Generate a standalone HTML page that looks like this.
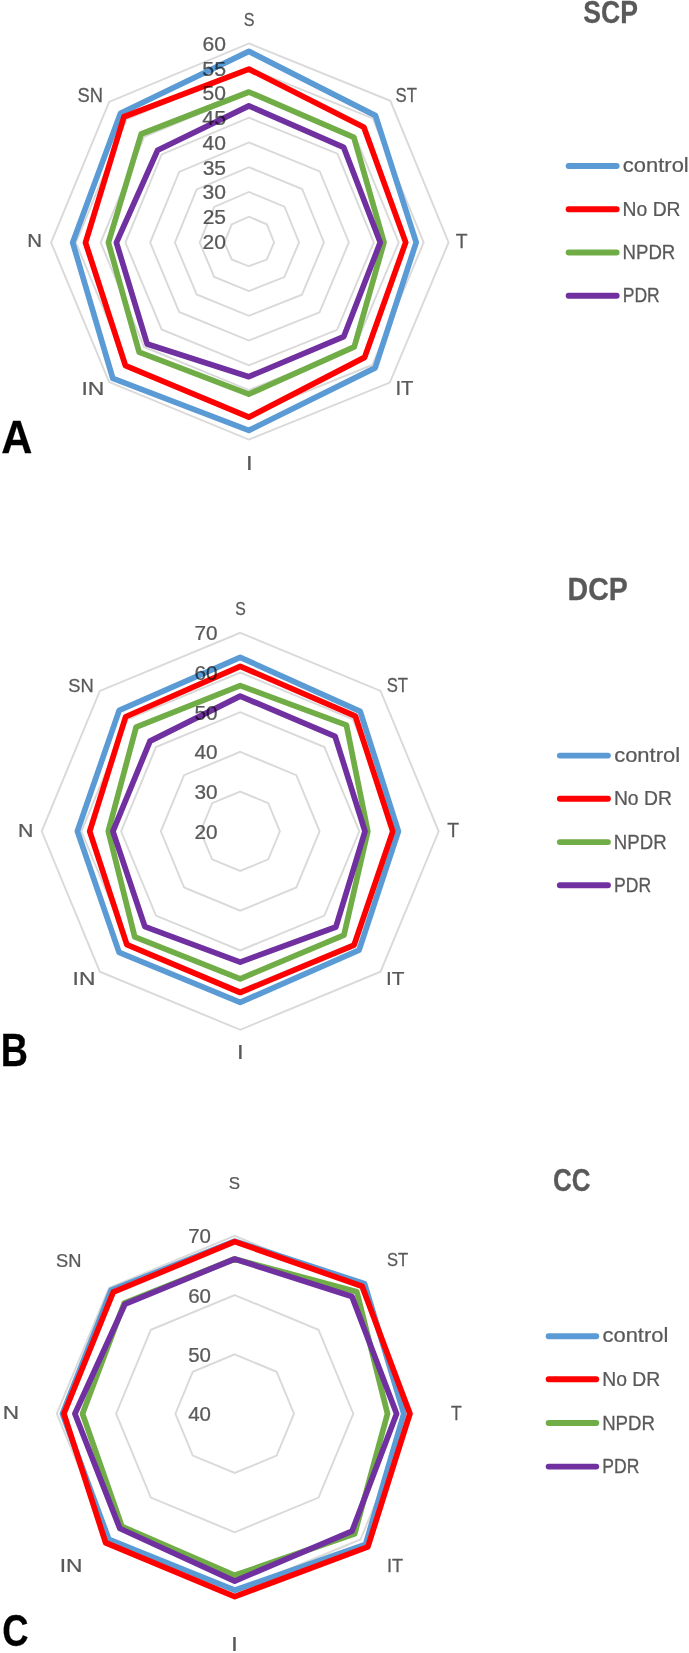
<!DOCTYPE html>
<html><head><meta charset="utf-8"><title>Radar charts SCP DCP CC</title>
<style>
html,body{margin:0;padding:0;background:#fff;}
body{width:689px;height:1653px;overflow:hidden;}
svg text{mix-blend-mode:multiply;}
svg{display:block;font-family:"Liberation Sans",sans-serif;}
</style></head><body>
<svg width="689" height="1653" viewBox="0 0 689 1653">
<rect width="689" height="1653" fill="#fff"/>
<polygon points="248.90,216.74 266.85,224.30 274.12,242.40 266.78,259.53 248.80,266.26 231.69,259.46 224.44,242.60 231.69,224.44" fill="none" stroke="#D9D9D9" stroke-width="1.9"/>
<polygon points="248.90,191.98 284.50,206.65 299.05,242.40 284.36,277.11 248.80,291.02 214.18,276.97 199.68,242.60 214.18,206.93" fill="none" stroke="#D9D9D9" stroke-width="1.9"/>
<polygon points="248.90,167.22 302.14,189.01 323.97,242.40 301.93,294.68 248.80,315.78 196.68,294.47 174.92,242.60 196.68,189.43" fill="none" stroke="#D9D9D9" stroke-width="1.9"/>
<polygon points="248.90,142.46 319.79,171.36 348.89,242.40 319.51,312.26 248.80,340.54 179.17,311.98 150.16,242.60 179.17,171.92" fill="none" stroke="#D9D9D9" stroke-width="1.9"/>
<polygon points="248.90,117.70 337.44,153.71 373.82,242.40 337.09,329.84 248.80,365.30 161.66,329.49 125.40,242.60 161.66,154.41" fill="none" stroke="#D9D9D9" stroke-width="1.9"/>
<polygon points="248.90,92.94 355.09,136.06 398.74,242.40 354.67,347.42 248.80,390.06 144.15,347.00 100.64,242.60 144.15,136.90" fill="none" stroke="#D9D9D9" stroke-width="1.9"/>
<polygon points="248.90,68.18 372.74,118.41 423.66,242.40 372.25,365.00 248.80,414.82 126.64,364.51 75.88,242.60 126.64,119.39" fill="none" stroke="#D9D9D9" stroke-width="1.9"/>
<polygon points="248.90,43.42 390.38,100.77 448.59,242.40 389.82,382.57 248.80,439.58 109.14,382.01 51.12,242.60 109.14,101.89" fill="none" stroke="#D9D9D9" stroke-width="1.9"/>
<polygon points="248.90,51.40 375.49,115.66 416.20,242.40 375.14,367.89 248.80,430.40 112.80,378.35 72.70,242.60 120.51,113.26" fill="none" stroke="#5B9BD5" stroke-width="5.7" stroke-linejoin="round"/>
<polygon points="248.90,69.10 363.89,127.26 405.70,242.40 364.60,357.35 248.80,417.20 125.46,365.69 85.50,242.60 123.97,116.72" fill="none" stroke="#FF0000" stroke-width="5.7" stroke-linejoin="round"/>
<polygon points="248.90,92.00 353.85,137.30 384.00,242.40 354.21,346.96 248.80,394.10 139.10,352.05 108.40,242.60 141.22,133.97" fill="none" stroke="#70AD47" stroke-width="5.7" stroke-linejoin="round"/>
<polygon points="248.90,105.90 343.74,147.41 380.30,242.40 343.81,336.56 248.80,376.70 147.16,343.99 116.40,242.60 157.56,150.31" fill="none" stroke="#7030A0" stroke-width="5.7" stroke-linejoin="round"/>
<text transform="matrix(0.21074 0 0 0.20071 202.60 249.00)" font-size="100" fill="#595959" stroke="#595959" stroke-width="1.216" stroke-linejoin="round">20</text>
<text transform="matrix(0.21074 0 0 0.20071 202.65 224.24)" font-size="100" fill="#595959" stroke="#595959" stroke-width="1.216" stroke-linejoin="round">25</text>
<text transform="matrix(0.21074 0 0 0.20071 202.60 199.48)" font-size="100" fill="#595959" stroke="#595959" stroke-width="1.216" stroke-linejoin="round">30</text>
<text transform="matrix(0.21074 0 0 0.20071 202.65 174.72)" font-size="100" fill="#595959" stroke="#595959" stroke-width="1.216" stroke-linejoin="round">35</text>
<text transform="matrix(0.21074 0 0 0.20071 202.60 149.96)" font-size="100" fill="#595959" stroke="#595959" stroke-width="1.216" stroke-linejoin="round">40</text>
<text transform="matrix(0.21376 0 0 0.20358 202.33 125.20)" font-size="100" fill="#595959" stroke="#595959" stroke-width="1.198" stroke-linejoin="round">45</text>
<text transform="matrix(0.21074 0 0 0.20071 202.60 100.44)" font-size="100" fill="#595959" stroke="#595959" stroke-width="1.216" stroke-linejoin="round">50</text>
<text transform="matrix(0.21376 0 0 0.20358 202.33 75.68)" font-size="100" fill="#595959" stroke="#595959" stroke-width="1.198" stroke-linejoin="round">55</text>
<text transform="matrix(0.21074 0 0 0.20071 202.60 50.92)" font-size="100" fill="#595959" stroke="#595959" stroke-width="1.216" stroke-linejoin="round">60</text>
<text transform="matrix(0.16174 0 0 0.18940 243.77 25.71)" font-size="100" fill="#595959" stroke="#595959" stroke-width="1.428" stroke-linejoin="round">S</text>
<text transform="matrix(0.16694 0 0 0.19505 395.55 101.80)" font-size="100" fill="#595959" stroke="#595959" stroke-width="1.385" stroke-linejoin="round">ST</text>
<text transform="matrix(0.19292 0 0 0.20218 455.87 248.00)" font-size="100" fill="#595959" stroke="#595959" stroke-width="1.266" stroke-linejoin="round">T</text>
<text transform="matrix(0.20324 0 0 0.19927 395.42 395.10)" font-size="100" fill="#595959" stroke="#595959" stroke-width="1.242" stroke-linejoin="round">IT</text>
<text transform="matrix(0.23784 0 0 0.19636 246.00 470.00)" font-size="100" fill="#595959" stroke="#595959" stroke-width="1.157" stroke-linejoin="round">I</text>
<text transform="matrix(0.22909 0 0 0.19200 81.38 395.20)" font-size="100" fill="#595959" stroke="#595959" stroke-width="1.192" stroke-linejoin="round">IN</text>
<text transform="matrix(0.20448 0 0 0.18182 27.21 247.20)" font-size="100" fill="#595959" stroke="#595959" stroke-width="1.297" stroke-linejoin="round">N</text>
<text transform="matrix(0.18297 0 0 0.19364 77.48 101.71)" font-size="100" fill="#595959" stroke="#595959" stroke-width="1.328" stroke-linejoin="round">SN</text>
<text transform="matrix(0.26600 0 0 0.31378 583.30 23.29)" font-size="100" font-weight="bold" fill="#595959" stroke="#595959" stroke-width="0.865" stroke-linejoin="round">SCP</text>
<line x1="568.65" y1="166.0" x2="616.65" y2="166.0" stroke="#5B9BD5" stroke-width="5.9" stroke-linecap="round"/>
<line x1="568.65" y1="209.2" x2="616.65" y2="209.2" stroke="#FF0000" stroke-width="5.9" stroke-linecap="round"/>
<line x1="568.65" y1="252.5" x2="616.65" y2="252.5" stroke="#70AD47" stroke-width="5.9" stroke-linecap="round"/>
<line x1="568.65" y1="295.7" x2="616.65" y2="295.7" stroke="#7030A0" stroke-width="5.9" stroke-linecap="round"/>
<text transform="matrix(0.21953 0 0 0.20680 622.87 172.19)" font-size="100" fill="#595959" stroke="#595959" stroke-width="1.173" stroke-linejoin="round">control</text>
<text transform="matrix(0.19338 0 0 0.19355 622.60 215.71)" font-size="100" fill="#595959" stroke="#595959" stroke-width="1.292" stroke-linejoin="round">No DR</text>
<text transform="matrix(0.18632 0 0 0.19636 622.56 259.20)" font-size="100" fill="#595959" stroke="#595959" stroke-width="1.307" stroke-linejoin="round">NPDR</text>
<text transform="matrix(0.17554 0 0 0.19636 622.75 302.40)" font-size="100" fill="#595959" stroke="#595959" stroke-width="1.347" stroke-linejoin="round">PDR</text>
<text transform="matrix(0.43134 0 0 0.45527 1.22 453.40)" font-size="100" font-weight="bold" fill="#000000" stroke="#000000" stroke-width="0.564" stroke-linejoin="round">A</text>
<polygon points="240.20,791.60 268.27,803.23 279.90,831.30 268.27,859.37 240.20,871.00 212.13,859.37 200.50,831.30 212.13,803.23" fill="none" stroke="#D9D9D9" stroke-width="1.9"/>
<polygon points="240.20,751.90 296.34,775.16 319.60,831.30 296.34,887.44 240.20,910.70 184.06,887.44 160.80,831.30 184.06,775.16" fill="none" stroke="#D9D9D9" stroke-width="1.9"/>
<polygon points="240.20,712.20 324.42,747.08 359.30,831.30 324.42,915.52 240.20,950.40 155.98,915.52 121.10,831.30 155.98,747.08" fill="none" stroke="#D9D9D9" stroke-width="1.9"/>
<polygon points="240.20,672.50 352.49,719.01 399.00,831.30 352.49,943.59 240.20,990.10 127.91,943.59 81.40,831.30 127.91,719.01" fill="none" stroke="#D9D9D9" stroke-width="1.9"/>
<polygon points="240.20,632.80 380.56,690.94 438.70,831.30 380.56,971.66 240.20,1029.80 99.84,971.66 41.70,831.30 99.84,690.94" fill="none" stroke="#D9D9D9" stroke-width="1.9"/>
<polygon points="240.20,657.30 360.20,711.30 398.40,831.30 359.06,950.16 240.20,1002.40 119.07,952.43 77.40,831.30 119.21,710.31" fill="none" stroke="#5B9BD5" stroke-width="5.7" stroke-linejoin="round"/>
<polygon points="240.20,666.30 355.39,716.11 392.80,831.30 354.04,945.14 240.20,992.50 126.85,944.65 89.70,831.30 125.65,716.75" fill="none" stroke="#FF0000" stroke-width="5.7" stroke-linejoin="round"/>
<polygon points="240.20,685.60 346.41,725.09 367.80,831.30 343.93,935.03 240.20,978.80 134.70,936.80 108.30,831.30 136.11,727.21" fill="none" stroke="#70AD47" stroke-width="5.7" stroke-linejoin="round"/>
<polygon points="240.20,696.10 335.09,736.41 365.00,831.30 335.87,926.97 240.20,962.10 144.88,926.62 112.90,831.30 150.04,741.14" fill="none" stroke="#7030A0" stroke-width="5.7" stroke-linejoin="round"/>
<text transform="matrix(0.20777 0 0 0.19788 194.42 838.60)" font-size="100" fill="#595959" stroke="#595959" stroke-width="1.233" stroke-linejoin="round">20</text>
<text transform="matrix(0.20777 0 0 0.19788 194.42 798.90)" font-size="100" fill="#595959" stroke="#595959" stroke-width="1.233" stroke-linejoin="round">30</text>
<text transform="matrix(0.20777 0 0 0.19788 194.42 759.20)" font-size="100" fill="#595959" stroke="#595959" stroke-width="1.233" stroke-linejoin="round">40</text>
<text transform="matrix(0.20777 0 0 0.19788 194.42 719.50)" font-size="100" fill="#595959" stroke="#595959" stroke-width="1.233" stroke-linejoin="round">50</text>
<text transform="matrix(0.20777 0 0 0.19788 194.42 679.80)" font-size="100" fill="#595959" stroke="#595959" stroke-width="1.233" stroke-linejoin="round">60</text>
<text transform="matrix(0.20777 0 0 0.19788 194.42 640.10)" font-size="100" fill="#595959" stroke="#595959" stroke-width="1.233" stroke-linejoin="round">70</text>
<text transform="matrix(0.15826 0 0 0.17809 235.19 614.82)" font-size="100" fill="#595959" stroke="#595959" stroke-width="1.489" stroke-linejoin="round">S</text>
<text transform="matrix(0.16694 0 0 0.19788 386.65 691.50)" font-size="100" fill="#595959" stroke="#595959" stroke-width="1.375" stroke-linejoin="round">ST</text>
<text transform="matrix(0.19292 0 0 0.19491 447.27 837.20)" font-size="100" fill="#595959" stroke="#595959" stroke-width="1.289" stroke-linejoin="round">T</text>
<text transform="matrix(0.20841 0 0 0.18764 386.07 985.00)" font-size="100" fill="#595959" stroke="#595959" stroke-width="1.264" stroke-linejoin="round">IT</text>
<text transform="matrix(0.23784 0 0 0.19345 237.10 1059.00)" font-size="100" fill="#595959" stroke="#595959" stroke-width="1.165" stroke-linejoin="round">I</text>
<text transform="matrix(0.22788 0 0 0.18764 72.59 985.00)" font-size="100" fill="#595959" stroke="#595959" stroke-width="1.209" stroke-linejoin="round">IN</text>
<text transform="matrix(0.21345 0 0 0.18473 18.04 837.20)" font-size="100" fill="#595959" stroke="#595959" stroke-width="1.259" stroke-linejoin="round">N</text>
<text transform="matrix(0.18376 0 0 0.18940 68.37 691.51)" font-size="100" fill="#595959" stroke="#595959" stroke-width="1.340" stroke-linejoin="round">SN</text>
<text transform="matrix(0.28557 0 0 0.31237 567.57 599.89)" font-size="100" font-weight="bold" fill="#595959" stroke="#595959" stroke-width="0.837" stroke-linejoin="round">DCP</text>
<line x1="559.85" y1="755.6" x2="607.95" y2="755.6" stroke="#5B9BD5" stroke-width="5.9" stroke-linecap="round"/>
<line x1="559.85" y1="798.8" x2="607.95" y2="798.8" stroke="#FF0000" stroke-width="5.9" stroke-linecap="round"/>
<line x1="559.85" y1="842.1" x2="607.95" y2="842.1" stroke="#70AD47" stroke-width="5.9" stroke-linecap="round"/>
<line x1="559.85" y1="885.3" x2="607.95" y2="885.3" stroke="#7030A0" stroke-width="5.9" stroke-linecap="round"/>
<text transform="matrix(0.21953 0 0 0.20680 614.17 761.79)" font-size="100" fill="#595959" stroke="#595959" stroke-width="1.173" stroke-linejoin="round">control</text>
<text transform="matrix(0.19338 0 0 0.19355 613.90 805.31)" font-size="100" fill="#595959" stroke="#595959" stroke-width="1.292" stroke-linejoin="round">No DR</text>
<text transform="matrix(0.18632 0 0 0.19636 613.86 848.80)" font-size="100" fill="#595959" stroke="#595959" stroke-width="1.307" stroke-linejoin="round">NPDR</text>
<text transform="matrix(0.17554 0 0 0.19636 614.05 892.00)" font-size="100" fill="#595959" stroke="#595959" stroke-width="1.347" stroke-linejoin="round">PDR</text>
<text transform="matrix(0.37705 0 0 0.45818 0.75 1065.70)" font-size="100" font-weight="bold" fill="#000000" stroke="#000000" stroke-width="0.601" stroke-linejoin="round">B</text>
<polygon points="234.70,1354.40 276.63,1371.77 294.00,1413.70 276.63,1455.63 234.70,1473.00 192.77,1455.63 175.40,1413.70 192.77,1371.77" fill="none" stroke="#D9D9D9" stroke-width="1.9"/>
<polygon points="234.70,1295.10 318.56,1329.84 353.30,1413.70 318.56,1497.56 234.70,1532.30 150.84,1497.56 116.10,1413.70 150.84,1329.84" fill="none" stroke="#D9D9D9" stroke-width="1.9"/>
<polygon points="234.70,1235.80 360.49,1287.91 412.60,1413.70 360.49,1539.49 234.70,1591.60 108.91,1539.49 56.80,1413.70 108.91,1287.91" fill="none" stroke="#D9D9D9" stroke-width="1.9"/>
<polygon points="234.70,1241.10 364.60,1283.80 403.80,1413.70 365.51,1544.51 234.70,1590.20 108.91,1539.49 62.40,1413.70 111.17,1290.17" fill="none" stroke="#5B9BD5" stroke-width="5.7" stroke-linejoin="round"/>
<polygon points="234.70,1241.60 362.12,1286.28 409.90,1413.70 367.85,1546.85 234.70,1596.60 105.65,1542.75 63.90,1413.70 113.22,1292.22" fill="none" stroke="#FF0000" stroke-width="5.7" stroke-linejoin="round"/>
<polygon points="234.70,1259.00 356.75,1291.65 387.50,1413.70 354.70,1533.70 234.70,1575.30 121.92,1526.48 82.50,1413.70 124.18,1303.18" fill="none" stroke="#70AD47" stroke-width="5.7" stroke-linejoin="round"/>
<polygon points="234.70,1259.00 351.94,1296.46 396.60,1413.70 352.08,1531.08 234.70,1581.10 119.87,1528.53 74.90,1413.70 125.03,1304.03" fill="none" stroke="#7030A0" stroke-width="5.7" stroke-linejoin="round"/>
<text transform="matrix(0.20481 0 0 0.19505 188.13 1421.30)" font-size="100" fill="#595959" stroke="#595959" stroke-width="1.251" stroke-linejoin="round">40</text>
<text transform="matrix(0.20481 0 0 0.19505 188.13 1362.00)" font-size="100" fill="#595959" stroke="#595959" stroke-width="1.251" stroke-linejoin="round">50</text>
<text transform="matrix(0.20481 0 0 0.19505 188.13 1302.70)" font-size="100" fill="#595959" stroke="#595959" stroke-width="1.251" stroke-linejoin="round">60</text>
<text transform="matrix(0.20481 0 0 0.19505 188.13 1243.40)" font-size="100" fill="#595959" stroke="#595959" stroke-width="1.251" stroke-linejoin="round">70</text>
<text transform="matrix(0.16870 0 0 0.16820 228.74 1189.23)" font-size="100" fill="#595959" stroke="#595959" stroke-width="1.484" stroke-linejoin="round">S</text>
<text transform="matrix(0.16612 0 0 0.19223 386.95 1266.31)" font-size="100" fill="#595959" stroke="#595959" stroke-width="1.399" stroke-linejoin="round">ST</text>
<text transform="matrix(0.17522 0 0 0.19491 451.01 1419.70)" font-size="100" fill="#595959" stroke="#595959" stroke-width="1.353" stroke-linejoin="round">T</text>
<text transform="matrix(0.18123 0 0 0.18764 387.02 1571.80)" font-size="100" fill="#595959" stroke="#595959" stroke-width="1.356" stroke-linejoin="round">IT</text>
<text transform="matrix(0.24865 0 0 0.19782 230.90 1650.90)" font-size="100" fill="#595959" stroke="#595959" stroke-width="1.127" stroke-linejoin="round">I</text>
<text transform="matrix(0.22788 0 0 0.18909 59.79 1572.40)" font-size="100" fill="#595959" stroke="#595959" stroke-width="1.204" stroke-linejoin="round">IN</text>
<text transform="matrix(0.22601 0 0 0.18327 2.74 1419.20)" font-size="100" fill="#595959" stroke="#595959" stroke-width="1.228" stroke-linejoin="round">N</text>
<text transform="matrix(0.18297 0 0 0.17809 55.98 1266.62)" font-size="100" fill="#595959" stroke="#595959" stroke-width="1.385" stroke-linejoin="round">SN</text>
<text transform="matrix(0.26062 0 0 0.31378 553.06 1191.39)" font-size="100" font-weight="bold" fill="#595959" stroke="#595959" stroke-width="0.874" stroke-linejoin="round">CC</text>
<line x1="548.65" y1="1336.2" x2="596.25" y2="1336.2" stroke="#5B9BD5" stroke-width="5.9" stroke-linecap="round"/>
<line x1="548.65" y1="1379.2" x2="596.25" y2="1379.2" stroke="#FF0000" stroke-width="5.9" stroke-linecap="round"/>
<line x1="548.65" y1="1423.0" x2="596.25" y2="1423.0" stroke="#70AD47" stroke-width="5.9" stroke-linecap="round"/>
<line x1="548.65" y1="1466.6" x2="596.25" y2="1466.6" stroke="#7030A0" stroke-width="5.9" stroke-linecap="round"/>
<text transform="matrix(0.21953 0 0 0.20680 602.47 1342.39)" font-size="100" fill="#595959" stroke="#595959" stroke-width="1.173" stroke-linejoin="round">control</text>
<text transform="matrix(0.19338 0 0 0.19355 602.20 1385.71)" font-size="100" fill="#595959" stroke="#595959" stroke-width="1.292" stroke-linejoin="round">No DR</text>
<text transform="matrix(0.18632 0 0 0.19636 602.16 1429.70)" font-size="100" fill="#595959" stroke="#595959" stroke-width="1.307" stroke-linejoin="round">NPDR</text>
<text transform="matrix(0.17554 0 0 0.19636 602.35 1473.30)" font-size="100" fill="#595959" stroke="#595959" stroke-width="1.347" stroke-linejoin="round">PDR</text>
<text transform="matrix(0.36489 0 0 0.44099 2.34 1645.86)" font-size="100" font-weight="bold" fill="#000000" stroke="#000000" stroke-width="0.623" stroke-linejoin="round">C</text>
</svg>
</body></html>
